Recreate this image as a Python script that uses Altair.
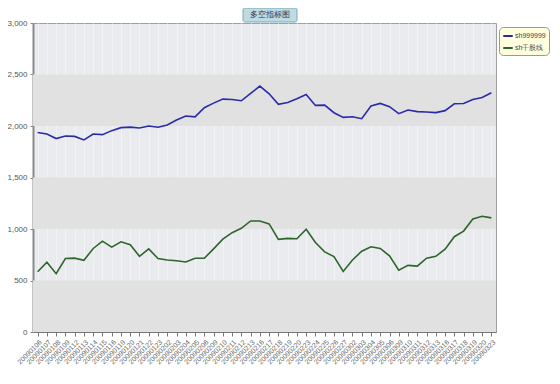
import altair as alt
import pandas as pd

dates = ["20090106", "20090107", "20090108", "20090109", "20090112", "20090113", "20090114",
         "20090115", "20090116", "20090119", "20090120", "20090121", "20090122", "20090123",
         "20090202", "20090203", "20090204", "20090205", "20090206", "20090209", "20090210",
         "20090211", "20090212", "20090213", "20090216", "20090217", "20090218", "20090219",
         "20090220", "20090223", "20090224", "20090225", "20090226", "20090227", "20090302",
         "20090303", "20090304", "20090305", "20090306", "20090309", "20090310", "20090311",
         "20090312", "20090313", "20090316", "20090317", "20090318", "20090319", "20090320",
         "20090323"]

sh999999 = [1937, 1923, 1878, 1903, 1899, 1865, 1922, 1916, 1955, 1984, 1989, 1980, 2000, 1988,
            2010, 2058, 2097, 2089, 2178, 2222, 2261, 2258, 2245, 2316, 2387, 2313, 2210, 2228,
            2265, 2306, 2200, 2203, 2129, 2084, 2090, 2071, 2194, 2219, 2188, 2120, 2155, 2140,
            2136, 2130, 2149, 2216, 2219, 2258, 2277, 2323]

sh_line = [585, 677, 566, 713, 717, 696, 811, 882, 824, 876, 847, 735, 807, 713,
           699, 692, 680, 716, 716, 807, 902, 964, 1007, 1078, 1078, 1049, 899, 909,
           905, 997, 869, 778, 732, 588, 699, 784, 827, 811, 739, 601, 647, 640,
           716, 735, 804, 925, 980, 1098, 1124, 1108]

series_names = ["sh999999", "sh千股线"]
series_colors = ["#2a2aaa", "#2d652d"]
y_ticks = [0, 500, 1000, 1500, 2000, 2500, 3000]
band_lo = [0, 1000, 2000]
band_hi = [500, 1500, 2500]
chart_title = "多空指标图"

rows = []
for d, a, b in zip(dates, sh999999, sh_line):
    rows.append({"date": d, "series": series_names[0], "value": a})
    rows.append({"date": d, "series": series_names[1], "value": b})
df = pd.DataFrame(rows)
bands = pd.DataFrame({"lo": band_lo, "hi": band_hi})

W, H = 463, 309
yscale = alt.Scale(domain=[0, 3000], nice=False)
yaxis = alt.Axis(values=y_ticks, format=",.0f", title=None, grid=False,
                 domainColor="#8a8a8a", domainWidth=2, tickColor="#8a8a8a",
                 tickSize=3, labelFontSize=8, labelColor="#555",
                 labelFont="Liberation Sans", labelPadding=3)

band_layer = alt.Chart(bands).mark_rect(color="#e1e1e1").encode(
    x=alt.value(0), x2=alt.value(W),
    y=alt.Y("lo:Q", scale=yscale, axis=yaxis),
    y2="hi:Q",
)

lines = alt.Chart(df).mark_line(strokeWidth=1.6).encode(
    x=alt.X("date:O", sort=dates, scale=alt.Scale(type="point", padding=0.5),
            axis=alt.Axis(title=None, labelAngle=-45, labelAlign="right",
                          labelBaseline="top", labelFontSize=7, labelColor="#666",
                          labelFont="Liberation Sans", tickSize=4, tickColor="#777",
                          domainColor="#777", grid=True, gridColor="#f2f3f5",
                          gridWidth=1, labelPadding=2)),
    y=alt.Y("value:Q", scale=yscale, axis=yaxis),
    color=alt.Color("series:N",
                    scale=alt.Scale(domain=series_names, range=series_colors),
                    legend=alt.Legend(orient="none", legendX=466, legendY=4, title=None,
                                      fillColor="#ffffe0", strokeColor="#999",
                                      cornerRadius=4, padding=3, symbolType="stroke",
                                      symbolStrokeWidth=2, symbolSize=90,
                                      labelFontSize=7, labelColor="#444",
                                      labelFont="Liberation Sans",
                                      rowPadding=2, labelOffset=1, symbolOffset=0)),
)

title_df = pd.DataFrame({"t": [chart_title]})
title_box = alt.Chart(title_df).mark_rect(
    fill="#bcdbe3", stroke="#7ea9b6", strokeWidth=1, cornerRadius=2
).encode(x=alt.value(210), x2=alt.value(264), y=alt.value(-15), y2=alt.value(-1))
title_text = alt.Chart(title_df).mark_text(
    fontSize=8, color="#335", align="center", baseline="middle"
).encode(text="t:N", x=alt.value(237), y=alt.value(-8))

chart = alt.layer(band_layer, lines, title_box, title_text).properties(
    width=W, height=H,
    autosize=alt.AutoSizeParams(type="none"),
    padding={"left": 25, "top": 15, "right": 56, "bottom": 44},
).configure_view(
    fill="#e9ebee", stroke="#a0a0a0", strokeWidth=1
)

chart.save("out.html", embed_options={"renderer": "svg", "actions": False})
